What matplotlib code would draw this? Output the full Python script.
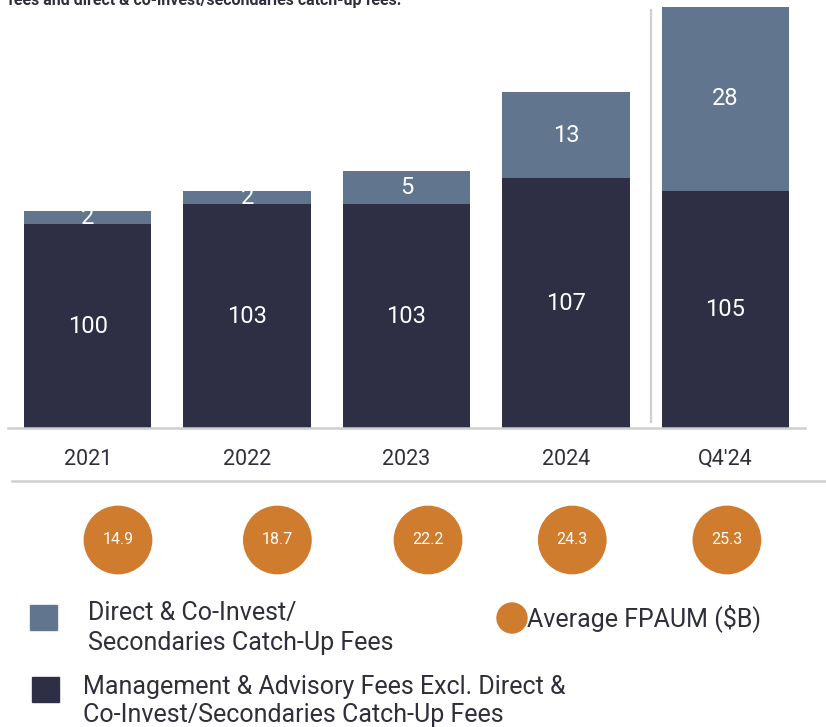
import matplotlib
matplotlib.use("Agg")
import matplotlib.pyplot as plt
from matplotlib.lines import Line2D
from matplotlib.patches import Rectangle, Ellipse

plt.rcParams['font.family'] = ['Roboto', 'DejaVu Sans']

periods = ["2021", "2022", "2023", "2024", "Q4'24"]
mgmt_fees = [100, 103, 103, 107, 105]
catchup_fees = [2, 2, 5, 13, 28]
avg_fpaum = [14.9, 18.7, 22.2, 24.3, 25.3]

navy = '#2e2f45'
slate = '#61758f'
orange = '#d07c2e'
grid_gray = '#cfcfcf'
text_col = '#2e2f3a'

W, H = 826, 727
fig = plt.figure(figsize=(W / 100, H / 100), dpi=100)

def fx(px):
    return px / W

def fy(py):
    return 1 - py / H

# main bar axes (y axis is truncated, like the source slide)
ax = fig.add_axes([fx(8), fy(428), fx(797), 428 / H])
x = list(range(len(periods)))
ax.bar(x, mgmt_fees, width=0.8, color=navy)
ax.bar(x, catchup_fees, width=0.8, bottom=mgmt_fees, color=slate)
ax.set_xlim(-0.5, 4.5)
ax.set_ylim(69.1, 134)

lo = ax.get_ylim()[0]
for i in x:
    ax.text(i, (lo + mgmt_fees[i]) / 2, str(mgmt_fees[i]), ha='center', va='center',
            color='white', fontsize=17)
    ax.text(i, mgmt_fees[i] + catchup_fees[i] / 2, str(catchup_fees[i]), ha='center',
            va='center', color='white', fontsize=17)

ax.axvline(3.533, ymin=0.014, ymax=0.977, color=grid_gray, lw=1.5)

for s in ['top', 'right', 'left']:
    ax.spines[s].set_visible(False)
ax.spines['bottom'].set_color(grid_gray)
ax.spines['bottom'].set_linewidth(1.8)
ax.set_yticks([])
ax.set_xticks(x)
ax.set_xticklabels(periods, fontsize=15.5, color=text_col)
ax.tick_params(axis='x', length=0, pad=15)

# separator under the period labels
fig.add_artist(Line2D([fx(12), 1], [fy(481), fy(481)], color=grid_gray, lw=1.8))

# average FPAUM bubbles
ax2 = fig.add_axes([fx(8), fy(580), fx(797), 80 / H])
ax2.set_xlim(-0.5, 4.5)
ax2.set_ylim(0, 1)
ax2.axis('off')
bubble_x = [0.19, 1.19, 2.135, 3.04, 4.01]
ax2.scatter(bubble_x, [0.5] * len(bubble_x), s=2450, color=orange, edgecolors='none')
for bx, v in zip(bubble_x, avg_fpaum):
    ax2.text(bx, 0.5, f"{v:.1f}", ha='center', va='center', color='white', fontsize=11.5)

# legend drawn by hand
leg_fs = 18
fig.add_artist(Rectangle((fx(30), fy(630)), fx(27), 25 / H, color=slate))
fig.text(fx(88), fy(613), "Direct & Co-Invest/", fontsize=leg_fs, color=text_col, va='center')
fig.text(fx(88), fy(643), "Secondaries Catch-Up Fees", fontsize=leg_fs, color=text_col, va='center')
fig.add_artist(Ellipse((fx(512), fy(618)), fx(30), 30 / H, color=orange))
fig.text(fx(527), fy(618), "Average FPAUM ($B)", fontsize=leg_fs, color=text_col, va='center')
fig.add_artist(Rectangle((fx(32), fy(702)), fx(27), 25 / H, color=navy))
fig.text(fx(83), fy(687), "Management & Advisory Fees Excl. Direct &", fontsize=leg_fs,
         color=text_col, va='center')
fig.text(fx(83), fy(715), "Co-Invest/Secondaries Catch-Up Fees", fontsize=leg_fs,
         color=text_col, va='center')

# clipped heading from the slide above
fig.text(fx(8), fy(1), "fees and direct & co-invest/secondaries catch-up fees.",
         fontsize=11.5, fontweight='bold', color=text_col, va='center')

fig.savefig('out.png', dpi=100)
